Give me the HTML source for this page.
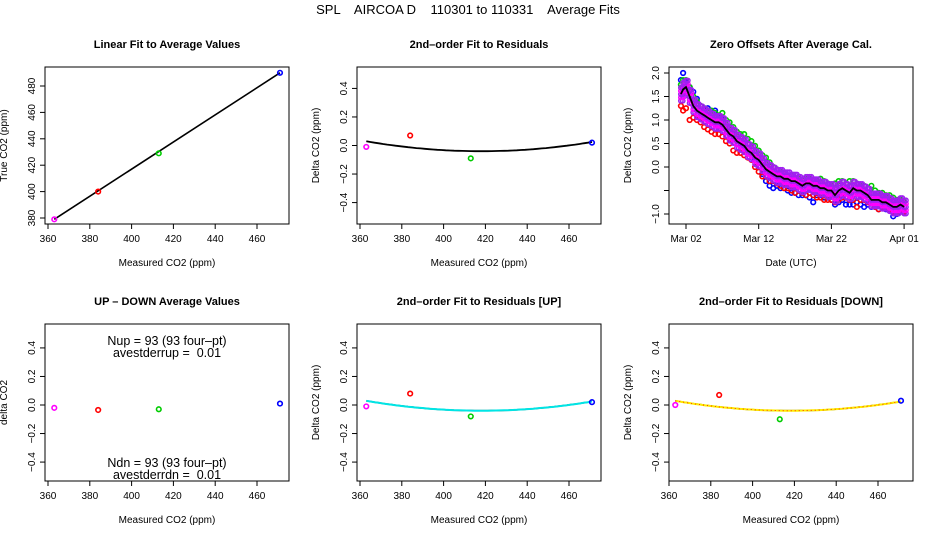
<!DOCTYPE html>
<html><head><meta charset="utf-8">
<style>
body{margin:0;background:#fff;}
svg{display:block;font-family:"Liberation Sans",sans-serif;}
</style></head>
<body>
<svg id="fig" width="936" height="540" viewBox="0 0 936 540">
<text x="468" y="14" text-anchor="middle" font-size="13" style="white-space:pre" xml:space="preserve">SPL    AIRCOA D    110301 to 110331    Average Fits</text>
</svg>
<script>
// ---- data ----
const calX = [363, 384, 413, 471];
const calColors = ['#ff00ff', '#ff0000', '#00cc00', '#0000ff'];
const trueY = [379, 400, 429, 490];
const residAll = [-0.01, 0.07, -0.09, 0.02];
const residUp = [-0.01, 0.08, -0.08, 0.02];
const residDown = [0.0, 0.07, -0.10, 0.03];
const upDown = [-0.02, -0.035, -0.03, 0.01];
const fitCoef = [2.3e-5, 418, -0.04]; // a*(x-b)^2 + c
const linCoef = [1.0, 16]; // y = m*x + k
const xTicks = [360, 380, 400, 420, 440, 460];
const yTicksTrue = [380, 400, 420, 440, 460, 480];
const yTicksResid = [-0.4, -0.2, 0.0, 0.2, 0.4];
// zero offsets panel: day of March, daily values
const days = [1.3,1.6,2,2.5,3,3.5,4,4.5,5,5.5,6,6.5,7,7.5,8,8.5,9,9.5,10,10.5,11,11.5,12,12.5,13,13.5,14,14.5,15,15.5,16,16.5,17,17.5,18,18.5,19,19.5,20,20.5,21,21.5,22,22.5,23,23.5,24,24.5,25,25.5,26,26.5,27,27.5,28,28.5,29,29.5,30,30.5,31,31.5,32];
const meanOff = [1.55,1.65,1.7,1.5,1.3,1.2,1.15,1.1,1.05,1.0,0.95,0.95,0.9,0.8,0.7,0.65,0.55,0.5,0.45,0.35,0.3,0.2,0.15,0.05,-0.05,-0.1,-0.15,-0.2,-0.2,-0.25,-0.25,-0.3,-0.3,-0.35,-0.4,-0.35,-0.35,-0.4,-0.4,-0.45,-0.45,-0.5,-0.5,-0.6,-0.5,-0.45,-0.5,-0.55,-0.45,-0.5,-0.5,-0.55,-0.6,-0.7,-0.7,-0.7,-0.75,-0.75,-0.8,-0.85,-0.85,-0.8,-0.85];
const redOff = [1.3,1.2,1.25,1.0,1.05,1.0,0.95,0.85,0.8,0.75,0.7,0.7,0.65,0.55,0.5,0.35,0.3,0.3,0.25,0.2,0.15,0.0,-0.1,-0.2,-0.2,-0.3,-0.3,-0.35,-0.4,-0.45,-0.45,-0.5,-0.55,-0.5,-0.55,-0.6,-0.55,-0.6,-0.65,-0.65,-0.7,-0.7,-0.7,-0.75,-0.7,-0.65,-0.65,-0.7,-0.7,-0.85,-0.7,-0.7,-0.75,-0.75,-0.85,-0.9,-0.85,-0.85,-0.9,-0.95,-0.95,-0.9,-0.95];
const greenOff = [1.75,1.85,1.85,1.7,1.5,1.4,1.3,1.25,1.2,1.2,1.15,1.1,1.15,1.0,0.95,0.85,0.75,0.7,0.7,0.6,0.55,0.45,0.35,0.25,0.2,0.1,0.0,-0.05,-0.1,-0.15,-0.2,-0.2,-0.25,-0.25,-0.3,-0.25,-0.25,-0.3,-0.3,-0.25,-0.3,-0.35,-0.4,-0.35,-0.3,-0.3,-0.35,-0.3,-0.3,-0.35,-0.4,-0.4,-0.45,-0.4,-0.5,-0.55,-0.55,-0.6,-0.6,-0.65,-0.7,-0.7,-0.75];
const blueOff = [1.85,2.0,1.8,1.7,1.6,1.45,1.3,1.25,1.25,1.1,1.2,1.05,1.0,0.9,0.8,0.7,0.65,0.55,0.5,0.35,0.25,0.15,0.0,-0.15,-0.3,-0.4,-0.45,-0.4,-0.45,-0.45,-0.5,-0.55,-0.55,-0.6,-0.6,-0.6,-0.65,-0.75,-0.6,-0.6,-0.65,-0.65,-0.7,-0.8,-0.75,-0.7,-0.8,-0.8,-0.8,-0.75,-0.8,-0.85,-0.8,-0.85,-0.85,-0.9,-0.85,-0.9,-0.9,-1.05,-1.0,-0.95,-0.95];
const dateTicks = [2, 12, 22, 32];
const dateLabels = ['Mar 02', 'Mar 12', 'Mar 22', 'Apr 01'];
const offTicks = [-1.0, -0.5, 0.0, 0.5, 1.0, 1.5, 2.0];
const offLabels = ['\u22121.0', '', '0.0', '0.5', '1.0', '1.5', '2.0'];

const NS = 'http://www.w3.org/2000/svg';
const svg = document.getElementById('fig');
function el(tag, attrs, parent, text) {
  const e = document.createElementNS(NS, tag);
  for (const k in attrs) e.setAttribute(k, attrs[k]);
  if (text !== undefined) e.textContent = text;
  (parent || svg).appendChild(e);
  return e;
}
function fmt(v) { return (v < 0 ? '\u2212' : '') + Math.abs(v).toFixed(1); }

function panel(opt) {
  const g = el('g', {});
  
  
  const L = opt.left, T = opt.top, R = L + 244, B = T + 157;
  const sx = v => opt.x0 + (v - opt.xmin) * opt.xs;
  const sy = v => opt.y0 - (v - opt.ymin) * opt.ys;
  const t = el('text', {x: (L + R) / 2, y: T - 19, 'text-anchor': 'middle', 'font-size': 11, 'font-weight': 'bold'}, g, opt.title);
  
  
  const box = el('rect', {x: L, y: T, width: 244, height: 157, fill: 'none', stroke: '#000', 'stroke-width': 1}, g);
  
  
  opt.xt.forEach((v, i) => {
    const x = sx(v);
    el('line', {x1: x, x2: x, y1: B, y2: B + 5, stroke: '#000'}, g);
    const lab = el('text', {x: x, y: B + 18, 'text-anchor': 'middle', 'font-size': 10}, g, opt.xl ? opt.xl[i] : String(v));
    
    
  });
  el('line', {x1: sx(opt.xt[0]), x2: sx(opt.xt[opt.xt.length - 1]), y1: B, y2: B, stroke: '#000'}, g);
  opt.yt.forEach((v, i) => {
    const y = sy(v);
    el('line', {x1: L - 5, x2: L, y1: y, y2: y, stroke: '#000'}, g);
    const lab = el('text', {x: L - 10, y: y, 'text-anchor': 'middle', 'font-size': 10, transform: `rotate(-90 ${L - 10} ${y})`}, g, opt.yl ? opt.yl[i] : (opt.yfmt ? fmt(v) : String(v)));
    
    
  });
  const xa = el('text', {x: (L + R) / 2, y: B + 42, 'text-anchor': 'middle', 'font-size': 10}, g, opt.xlab);
  
  
  const yx = L - 38, ymid = (T + B) / 2;
  const ya = el('text', {x: yx, y: ymid, 'text-anchor': 'middle', 'font-size': 10, transform: `rotate(-90 ${yx} ${ymid})`}, g, opt.ylab);
  
  
  return {g, sx, sy};
}
function pts(p, xs, ys, colors, name) {
  xs.forEach((x, i) => {
    const c = el('circle', {cx: p.sx(x), cy: p.sy(ys[i]), r: 2.3, fill: 'none', stroke: colors[i], 'stroke-width': 1.6}, p.g);
    
    
  });
}
function fitCurve(p, color, width, dash, name) {
  let d = '';
  for (let x = 363; x <= 471; x += 2) {
    const y = fitCoef[0] * (x - fitCoef[1]) ** 2 + fitCoef[2];
    d += (d ? 'L' : 'M') + p.sx(x).toFixed(1) + ',' + p.sy(y).toFixed(1);
  }
  const pa = el('path', {d, fill: 'none', stroke: color, 'stroke-width': width}, p.g);
  if (dash) pa.setAttribute('stroke-dasharray', dash);
  
  
}
const xsc = 41.8 / 20, rsc = 142.7;
const resid = {xmin: 360, xs: xsc, ymin: 0, ys: rsc, xt: xTicks, yt: yTicksResid, yfmt: true, xlab: 'Measured CO2 (ppm)'};

// Panel 1
const p1 = panel(Object.assign({}, {name: 'linear-fit-panel', left: 45, top: 67, x0: 48, xmin: 360, xs: xsc, y0: 218, ymin: 380, ys: 26.4 / 20, xt: xTicks, yt: yTicksTrue, title: 'Linear Fit to Average Values', xlab: 'Measured CO2 (ppm)', ylab: 'True CO2 (ppm)'}));
const lf = el('line', {x1: p1.sx(363), y1: p1.sy(linCoef[0] * 363 + linCoef[1]), x2: p1.sx(471), y2: p1.sy(linCoef[0] * 471 + linCoef[1] + 3), stroke: '#000', 'stroke-width': 1.6}, p1.g);


pts(p1, calX, trueY, calColors, 'cal-point');

// Panel 2
const p2 = panel(Object.assign({}, resid, {name: 'residual-fit-panel', left: 357, top: 67, x0: 360, y0: 145.5, title: '2nd\u2013order Fit to Residuals', ylab: 'Delta CO2 (ppm)'}));
fitCurve(p2, '#000', 1.8, null, 'fit-curve');
pts(p2, calX, residAll, calColors, 'residual-point');

// Panel 3: zero offsets
const p3 = panel({name: 'zero-offsets-panel', left: 669, top: 67, x0: 686, xmin: 2, xs: 7.27, y0: 167, ymin: 0, ys: 47, xt: dateTicks, xl: dateLabels, yt: offTicks, yl: offLabels, title: 'Zero Offsets After Average Cal.', xlab: 'Date (UTC)', ylab: 'Delta CO2 (ppm)'});
function offSeries(vals, color, name) {
  days.forEach((d, i) => {
    const c = el('circle', {cx: p3.sx(d), cy: p3.sy(vals[i]), r: 2.3, fill: 'none', stroke: color, 'stroke-width': 1.6}, p3.g);
    
    
  });
}
offSeries(blueOff, '#0000ff', 'offset-blue');
offSeries(greenOff, '#00cc00', 'offset-green');
offSeries(redOff, '#ff0000', 'offset-red');
// purple band around mean
[-0.14, -0.07, 0, 0.07, 0.14].forEach((dv, k) => {
  days.forEach((d, i) => {
    [0, 0.25].forEach(dd => {
      const c = el('circle', {cx: p3.sx(d + dd), cy: p3.sy(meanOff[i] + dv), r: 2.2, fill: 'none', stroke: (k % 2 ? '#ff00ff' : '#a020f0'), 'stroke-width': 1.5}, p3.g);
      
      
    });
  });
});
{
  let d = '';
  days.forEach((x, i) => { d += (i ? 'L' : 'M') + p3.sx(x).toFixed(1) + ',' + p3.sy(meanOff[i]).toFixed(1); });
  const pa = el('path', {d, fill: 'none', stroke: '#000', 'stroke-width': 1.8}, p3.g);
  
  
}

// Panel 4: up-down
const p4 = panel(Object.assign({}, resid, {name: 'up-down-panel', left: 45, top: 324, x0: 48, y0: 405, title: 'UP \u2013 DOWN Average Values', ylab: 'delta CO2'}));
pts(p4, calX, upDown, calColors, 'updown-point');
[['Nup = 93 (93 four\u2013pt)', 345], ['avestderrup =  0.01', 357], ['Ndn = 93 (93 four\u2013pt)', 467], ['avestderrdn =  0.01', 479]].forEach(([s, y]) => {
  const t = el('text', {x: 167, y: y, 'text-anchor': 'middle', 'font-size': 12.5, style: 'white-space:pre'}, p4.g, s);
  
  
});

// Panel 5: UP
const p5 = panel(Object.assign({}, resid, {name: 'residual-up-panel', left: 357, top: 324, x0: 360, y0: 405, title: '2nd\u2013order Fit to Residuals [UP]', ylab: 'Delta CO2 (ppm)'}));
fitCurve(p5, '#000', 1.6, null, 'fit-curve');
fitCurve(p5, '#00e5e5', 2, null, 'fit-curve-up');
pts(p5, calX, residUp, calColors, 'residual-point');

// Panel 6: DOWN
const p6 = panel(Object.assign({}, resid, {name: 'residual-down-panel', left: 669, top: 324, x0: 669, y0: 405, title: '2nd\u2013order Fit to Residuals [DOWN]', ylab: 'Delta CO2 (ppm)'}));
fitCurve(p6, '#000', 1.6, null, 'fit-curve');
fitCurve(p6, '#ffee00', 2, null, 'fit-curve-down');
fitCurve(p6, '#ff3300', 1, '1,3', 'fit-curve-down-dots');
pts(p6, calX, residDown, calColors, 'residual-point');
</script>
</body></html>
